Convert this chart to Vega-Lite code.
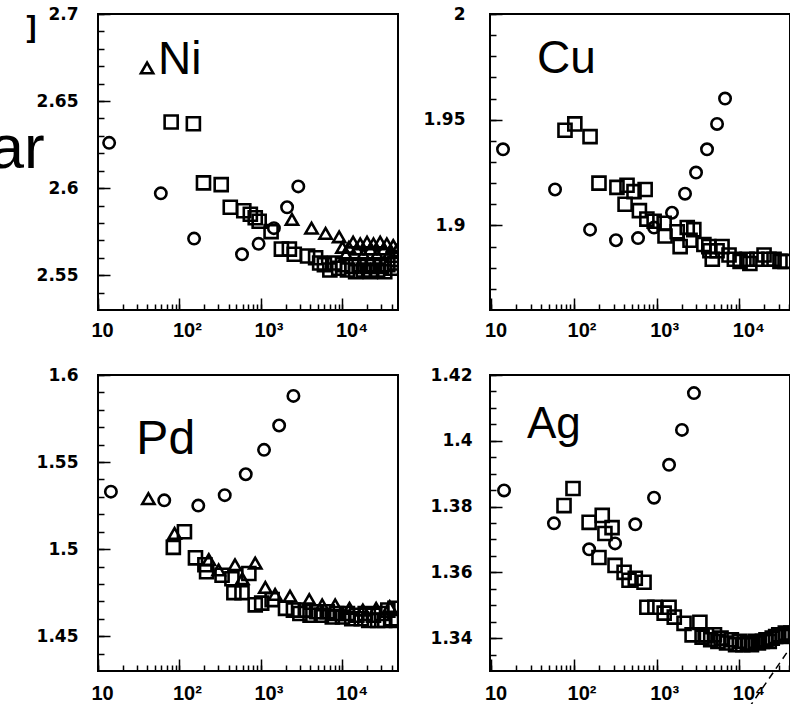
{
  "$schema": "https://vega.github.io/schema/vega-lite/v6.json",
  "background": "white",
  "padding": {"left": -12, "top": 4, "right": 0, "bottom": 0},
  "autosize": {"type": "pad"},
  "columns": 2,
  "spacing": {"row": 24, "column": 23},
  "config": {
    "view": {"stroke": "black", "strokeWidth": 2},
    "axis": {"grid": true, "gridColor": "black", "gridWidth": 1.5, "gridDash": [12, 1000], "domain": false, "ticks": true, "labelFont": "Liberation Sans", "labelFontWeight": "bold", "labelColor": "black", "tickColor": "black", "tickOpacity": 1, "tickWidth": 1.5, "tickSize": -6, "labelFlush": false, "labelOverlap": false, "minExtent": 0, "title": null},
    "axisX": {"gridDashOffset": -284},
    "axisY": {"labelFont": "DejaVu Sans", "labelFontSize": 17}
  },
  "datasets": {
    "ni": [
      {"n": 13.7, "v": 2.626, "s": "c"}, {"n": 59, "v": 2.597, "s": "c"}, {"n": 151, "v": 2.571, "s": "c"}, {"n": 585, "v": 2.562, "s": "c"}, {"n": 935, "v": 2.568, "s": "c"}, {"n": 1440, "v": 2.577, "s": "c"}, {"n": 2090, "v": 2.589, "s": "c"}, {"n": 2870, "v": 2.601, "s": "c"},
      {"n": 79, "v": 2.638, "s": "q"}, {"n": 148, "v": 2.637, "s": "q"}, {"n": 197, "v": 2.603, "s": "q"}, {"n": 325, "v": 2.602, "s": "q"}, {"n": 420, "v": 2.589, "s": "q"}, {"n": 615, "v": 2.587, "s": "q"}, {"n": 740, "v": 2.585, "s": "q"}, {"n": 850, "v": 2.583, "s": "q"}, {"n": 950, "v": 2.581, "s": "q"}, {"n": 1330, "v": 2.575, "s": "q"}, {"n": 1780, "v": 2.565, "s": "q"}, {"n": 2230, "v": 2.565, "s": "q"}, {"n": 2560, "v": 2.562, "s": "q"}, {"n": 3730, "v": 2.561, "s": "q"}, {"n": 4680, "v": 2.56, "s": "q"}, {"n": 5250, "v": 2.557, "s": "q"}, {"n": 6000, "v": 2.556, "s": "q"}, {"n": 7000, "v": 2.553, "s": "q"}, {"n": 8000, "v": 2.557, "s": "q"}, {"n": 9000, "v": 2.554, "s": "q"}, {"n": 10000, "v": 2.556, "s": "q"}, {"n": 11500, "v": 2.553, "s": "q"}, {"n": 13000, "v": 2.555, "s": "q"}, {"n": 14500, "v": 2.552, "s": "q"}, {"n": 16000, "v": 2.556, "s": "q"}, {"n": 18000, "v": 2.553, "s": "q"}, {"n": 20000, "v": 2.555, "s": "q"}, {"n": 22000, "v": 2.552, "s": "q"}, {"n": 24000, "v": 2.556, "s": "q"}, {"n": 27000, "v": 2.553, "s": "q"}, {"n": 30000, "v": 2.555, "s": "q"}, {"n": 33000, "v": 2.552, "s": "q"}, {"n": 36000, "v": 2.556, "s": "q"}, {"n": 40000, "v": 2.554, "s": "q"}, {"n": 44000, "v": 2.557, "s": "q"}, {"n": 47000, "v": 2.559, "s": "q"},
      {"n": 40, "v": 2.669, "s": "t"}, {"n": 2400, "v": 2.582, "s": "t"}, {"n": 4170, "v": 2.577, "s": "t"}, {"n": 6200, "v": 2.574, "s": "t"}, {"n": 9100, "v": 2.572, "s": "t"}, {"n": 10000, "v": 2.566, "s": "t"}, {"n": 11000, "v": 2.562, "s": "t"}, {"n": 12000, "v": 2.566, "s": "t"}, {"n": 13500, "v": 2.569, "s": "t"}, {"n": 15000, "v": 2.565, "s": "t"}, {"n": 16500, "v": 2.568, "s": "t"}, {"n": 18000, "v": 2.562, "s": "t"}, {"n": 20000, "v": 2.569, "s": "t"}, {"n": 22000, "v": 2.565, "s": "t"}, {"n": 24000, "v": 2.568, "s": "t"}, {"n": 26500, "v": 2.562, "s": "t"}, {"n": 29000, "v": 2.569, "s": "t"}, {"n": 32000, "v": 2.565, "s": "t"}, {"n": 35000, "v": 2.568, "s": "t"}, {"n": 38000, "v": 2.563, "s": "t"}, {"n": 42000, "v": 2.567, "s": "t"}, {"n": 46000, "v": 2.564, "s": "t"}
    ],
    "cu": [
      {"n": 13.8, "v": 1.936, "s": "c"}, {"n": 58.8, "v": 1.917, "s": "c"}, {"n": 156, "v": 1.898, "s": "c"}, {"n": 321, "v": 1.893, "s": "c"}, {"n": 594, "v": 1.894, "s": "c"}, {"n": 927, "v": 1.899, "s": "c"}, {"n": 1530, "v": 1.906, "s": "c"}, {"n": 2200, "v": 1.915, "s": "c"}, {"n": 2990, "v": 1.925, "s": "c"}, {"n": 4060, "v": 1.936, "s": "c"}, {"n": 5370, "v": 1.948, "s": "c"}, {"n": 6710, "v": 1.96, "s": "c"},
      {"n": 77.6, "v": 1.945, "s": "q"}, {"n": 102, "v": 1.948, "s": "q"}, {"n": 156, "v": 1.942, "s": "q"}, {"n": 200, "v": 1.92, "s": "q"}, {"n": 330, "v": 1.918, "s": "q"}, {"n": 437, "v": 1.919, "s": "q"}, {"n": 414, "v": 1.91, "s": "q"}, {"n": 531, "v": 1.916, "s": "q"}, {"n": 724, "v": 1.917, "s": "q"}, {"n": 617, "v": 1.907, "s": "q"}, {"n": 760, "v": 1.903, "s": "q"}, {"n": 930, "v": 1.902, "s": "q"}, {"n": 1230, "v": 1.901, "s": "q"}, {"n": 1260, "v": 1.895, "s": "q"}, {"n": 1770, "v": 1.897, "s": "q"}, {"n": 1920, "v": 1.89, "s": "q"}, {"n": 2340, "v": 1.899, "s": "q"}, {"n": 2810, "v": 1.898, "s": "q"}, {"n": 2530, "v": 1.893, "s": "q"}, {"n": 3720, "v": 1.891, "s": "q"}, {"n": 4270, "v": 1.89, "s": "q"}, {"n": 4400, "v": 1.888, "s": "q"}, {"n": 4700, "v": 1.884, "s": "q"}, {"n": 5370, "v": 1.888, "s": "q"}, {"n": 6170, "v": 1.89, "s": "q"}, {"n": 7500, "v": 1.886, "s": "q"}, {"n": 8700, "v": 1.884, "s": "q"}, {"n": 10200, "v": 1.883, "s": "q"}, {"n": 12400, "v": 1.884, "s": "q"}, {"n": 13400, "v": 1.882, "s": "q"}, {"n": 16300, "v": 1.884, "s": "q"}, {"n": 19900, "v": 1.886, "s": "q"}, {"n": 22800, "v": 1.884, "s": "q"}, {"n": 26300, "v": 1.884, "s": "q"}, {"n": 31000, "v": 1.883, "s": "q"}, {"n": 35700, "v": 1.883, "s": "q"}
    ],
    "pd": [
      {"n": 14.4, "v": 1.533, "s": "c"}, {"n": 65, "v": 1.528, "s": "c"}, {"n": 170, "v": 1.525, "s": "c"}, {"n": 359, "v": 1.531, "s": "c"}, {"n": 650, "v": 1.543, "s": "c"}, {"n": 1090, "v": 1.557, "s": "c"}, {"n": 1670, "v": 1.571, "s": "c"}, {"n": 2500, "v": 1.588, "s": "c"},
      {"n": 41.5, "v": 1.529, "s": "t"}, {"n": 87, "v": 1.509, "s": "t"}, {"n": 229, "v": 1.494, "s": "t"}, {"n": 302, "v": 1.488, "s": "t"}, {"n": 480, "v": 1.491, "s": "t"}, {"n": 590, "v": 1.483, "s": "t"}, {"n": 850, "v": 1.492, "s": "t"}, {"n": 1130, "v": 1.478, "s": "t"}, {"n": 1490, "v": 1.474, "s": "t"}, {"n": 2270, "v": 1.473, "s": "t"}, {"n": 3910, "v": 1.471, "s": "t"}, {"n": 5630, "v": 1.468, "s": "t"}, {"n": 8130, "v": 1.468, "s": "t"}, {"n": 12200, "v": 1.466, "s": "t"}, {"n": 17800, "v": 1.465, "s": "t"}, {"n": 25900, "v": 1.466, "s": "t"}, {"n": 38000, "v": 1.467, "s": "t"},
      {"n": 84, "v": 1.501, "s": "q"}, {"n": 115, "v": 1.51, "s": "q"}, {"n": 157, "v": 1.495, "s": "q"}, {"n": 205, "v": 1.491, "s": "q"}, {"n": 215, "v": 1.487, "s": "q"}, {"n": 333, "v": 1.485, "s": "q"}, {"n": 440, "v": 1.483, "s": "q"}, {"n": 465, "v": 1.475, "s": "q"}, {"n": 585, "v": 1.475, "s": "q"}, {"n": 710, "v": 1.486, "s": "q"}, {"n": 850, "v": 1.468, "s": "q"}, {"n": 1020, "v": 1.469, "s": "q"}, {"n": 1370, "v": 1.471, "s": "q"}, {"n": 2000, "v": 1.466, "s": "q"}, {"n": 2500, "v": 1.465, "s": "q"}, {"n": 3000, "v": 1.463, "s": "q"}, {"n": 3500, "v": 1.465, "s": "q"}, {"n": 4000, "v": 1.462, "s": "q"}, {"n": 4800, "v": 1.464, "s": "q"}, {"n": 5500, "v": 1.462, "s": "q"}, {"n": 6500, "v": 1.464, "s": "q"}, {"n": 7500, "v": 1.461, "s": "q"}, {"n": 8500, "v": 1.463, "s": "q"}, {"n": 10000, "v": 1.461, "s": "q"}, {"n": 11500, "v": 1.463, "s": "q"}, {"n": 13000, "v": 1.46, "s": "q"}, {"n": 15000, "v": 1.462, "s": "q"}, {"n": 17000, "v": 1.46, "s": "q"}, {"n": 19000, "v": 1.463, "s": "q"}, {"n": 21000, "v": 1.459, "s": "q"}, {"n": 24000, "v": 1.462, "s": "q"}, {"n": 27000, "v": 1.459, "s": "q"}, {"n": 30000, "v": 1.463, "s": "q"}, {"n": 33000, "v": 1.459, "s": "q"}, {"n": 36000, "v": 1.465, "s": "q"}, {"n": 40000, "v": 1.46, "s": "q"}, {"n": 44000, "v": 1.466, "s": "q"}, {"n": 46000, "v": 1.459, "s": "q"}
    ],
    "ag": [
      {"n": 14.2, "v": 1.3849, "s": "c"}, {"n": 57, "v": 1.3749, "s": "c"}, {"n": 152, "v": 1.367, "s": "c"}, {"n": 313, "v": 1.3688, "s": "c"}, {"n": 550, "v": 1.3746, "s": "c"}, {"n": 927, "v": 1.3827, "s": "c"}, {"n": 1410, "v": 1.3927, "s": "c"}, {"n": 2020, "v": 1.4033, "s": "c"}, {"n": 2820, "v": 1.4145, "s": "c"},
      {"n": 75.5, "v": 1.3803, "s": "q"}, {"n": 97, "v": 1.3855, "s": "q"}, {"n": 152, "v": 1.3752, "s": "q"}, {"n": 200, "v": 1.3645, "s": "q"}, {"n": 219, "v": 1.3773, "s": "q"}, {"n": 236, "v": 1.3718, "s": "q"}, {"n": 288, "v": 1.3736, "s": "q"}, {"n": 313, "v": 1.3621, "s": "q"}, {"n": 403, "v": 1.36, "s": "q"}, {"n": 462, "v": 1.3576, "s": "q"}, {"n": 550, "v": 1.3582, "s": "q"}, {"n": 702, "v": 1.357, "s": "q"}, {"n": 760, "v": 1.3494, "s": "q"}, {"n": 950, "v": 1.3494, "s": "q"}, {"n": 1230, "v": 1.3476, "s": "q"}, {"n": 1410, "v": 1.3494, "s": "q"}, {"n": 1630, "v": 1.3464, "s": "q"}, {"n": 2140, "v": 1.3445, "s": "q"}, {"n": 2680, "v": 1.341, "s": "q"}, {"n": 3330, "v": 1.3448, "s": "q"}, {"n": 3540, "v": 1.3403, "s": "q"}, {"n": 4000, "v": 1.341, "s": "q"}, {"n": 4500, "v": 1.3395, "s": "q"}, {"n": 5000, "v": 1.341, "s": "q"}, {"n": 5500, "v": 1.339, "s": "q"}, {"n": 6000, "v": 1.34, "s": "q"}, {"n": 7000, "v": 1.3385, "s": "q"}, {"n": 8000, "v": 1.3395, "s": "q"}, {"n": 9000, "v": 1.338, "s": "q"}, {"n": 10000, "v": 1.339, "s": "q"}, {"n": 11000, "v": 1.338, "s": "q"}, {"n": 12500, "v": 1.3385, "s": "q"}, {"n": 14000, "v": 1.338, "s": "q"}, {"n": 15500, "v": 1.339, "s": "q"}, {"n": 17000, "v": 1.3385, "s": "q"}, {"n": 19000, "v": 1.339, "s": "q"}, {"n": 21000, "v": 1.3395, "s": "q"}, {"n": 23000, "v": 1.339, "s": "q"}, {"n": 25000, "v": 1.34, "s": "q"}, {"n": 27500, "v": 1.3405, "s": "q"}, {"n": 30000, "v": 1.341, "s": "q"}, {"n": 33000, "v": 1.3405, "s": "q"}, {"n": 36000, "v": 1.3415, "s": "q"}, {"n": 39000, "v": 1.341, "s": "q"}, {"n": 42000, "v": 1.3415, "s": "q"}
    ],
    "agline": [{"n": 8870, "v": 1.3127}, {"n": 41100, "v": 1.337}]
  },
  "concat": [
    {
      "width": 300, "height": 296,
      "data": {"name": "ni"},
      "encoding": {
        "x": {"field": "n", "type": "quantitative", "scale": {"type": "log", "domain": [10, 48000], "nice": false},
              "axis": {"orient": "bottom", "values": [10, 20, 30, 40, 50, 60, 70, 80, 90, 100, 200, 300, 400, 500, 600, 700, 800, 900, 1000, 2000, 3000, 4000, 5000, 6000, 7000, 8000, 9000, 10000, 20000, 30000, 40000], "labelOverlap": false, "grid": true, "ticks": true, "tickSize": -6, "tickOpacity": 1, "tickColor": "black",
                       "gridOpacity": {"condition": {"test": "indexof([10, 100, 1000, 10000], datum.value) >= 0", "value": 1}, "value": 0},
                       "labelExpr": "datum.value == 10 ? '10' : datum.value == 100 ? '10²' : datum.value == 1000 ? '10³' : datum.value == 10000 ? '10⁴' : ''", "labelFontSize": 20, "labelPadding": 16, "labelAlign": "left", "labelOffset": -7,
                       "title": "]", "titleX": -72, "titleY": -274, "titleAlign": "left", "titleBaseline": "alphabetic", "titleFont": "Liberation Sans", "titleFontSize": 30, "titleFontWeight": "bold", "titleColor": "black", "titleAngle": 0}},
        "y": {"field": "v", "type": "quantitative", "scale": {"domain": [2.53, 2.7], "nice": false, "zero": false},
              "axis": {"orient": "left", "values": [2.54, 2.55, 2.56, 2.57, 2.58, 2.59, 2.6, 2.61, 2.62, 2.63, 2.64, 2.65, 2.66, 2.67, 2.68, 2.69, 2.7], "labelOverlap": false, "grid": true, "ticks": true, "tickSize": -6, "tickOpacity": 1, "tickColor": "black",
                       "gridOpacity": {"condition": {"test": "indexof([2.55, 2.6, 2.65, 2.7], datum.value) >= 0", "value": 1}, "value": 0},
                       "labelExpr": "indexof([2.55, 2.6, 2.65, 2.7], datum.value) >= 0 ? format(datum.value, '~g') : ''", "labelPadding": 26,
                       "title": "ar", "titleAngle": 0, "titleX": -109, "titleY": 153, "titleAlign": "left", "titleBaseline": "alphabetic", "titleFont": "Liberation Sans", "titleFontSize": 62, "titleFontWeight": "normal", "titleColor": "black"}}
      },
      "layer": [
        {"transform": [{"filter": "datum.s == 'c'"}], "mark": {"type": "point", "shape": "circle", "size": 130, "filled": false, "stroke": "black", "strokeWidth": 2.6, "opacity": 1, "clip": true}},
        {"transform": [{"filter": "datum.s == 'q'"}], "mark": {"type": "point", "shape": "square", "size": 170, "filled": false, "stroke": "black", "strokeWidth": 2.6, "opacity": 1, "clip": true}},
        {"transform": [{"filter": "datum.s == 't'"}], "mark": {"type": "point", "shape": "triangle-up", "size": 150, "filled": false, "stroke": "black", "strokeWidth": 2.6, "opacity": 1, "clip": true}},
        {"transform": [{"filter": "datum.s == 't' && datum.n == 40"}],
         "mark": {"type": "text", "text": "Ni", "font": "Liberation Sans", "fontSize": 46, "align": "left", "baseline": "alphabetic", "fill": "black", "dx": 11, "dy": 6}}
      ]
    },
    {
      "width": 300, "height": 296,
      "data": {"name": "cu"},
      "encoding": {
        "x": {"field": "n", "type": "quantitative", "scale": {"type": "log", "domain": [9.6, 41000], "nice": false},
              "axis": {"orient": "bottom", "values": [10, 20, 30, 40, 50, 60, 70, 80, 90, 100, 200, 300, 400, 500, 600, 700, 800, 900, 1000, 2000, 3000, 4000, 5000, 6000, 7000, 8000, 9000, 10000, 20000, 30000, 40000], "labelOverlap": false, "grid": true, "ticks": true, "tickSize": -6, "tickOpacity": 1, "tickColor": "black",
                       "gridOpacity": {"condition": {"test": "indexof([10, 100, 1000, 10000], datum.value) >= 0", "value": 1}, "value": 0},
                       "labelExpr": "datum.value == 10 ? '10' : datum.value == 100 ? '10²' : datum.value == 1000 ? '10³' : datum.value == 10000 ? '10⁴' : ''", "labelFontSize": 20, "labelPadding": 16, "labelAlign": "left", "labelOffset": -7}},
        "y": {"field": "v", "type": "quantitative", "scale": {"domain": [1.86, 2.0], "nice": false, "zero": false},
              "axis": {"orient": "left", "values": [1.87, 1.88, 1.89, 1.9, 1.91, 1.92, 1.93, 1.94, 1.95, 1.96, 1.97, 1.98, 1.99, 2], "labelOverlap": false, "grid": true, "ticks": true, "tickSize": -6, "tickOpacity": 1, "tickColor": "black",
                       "gridOpacity": {"condition": {"test": "indexof([1.9, 1.95, 2], datum.value) >= 0", "value": 1}, "value": 0},
                       "labelExpr": "indexof([1.9, 1.95, 2], datum.value) >= 0 ? format(datum.value, '~g') : ''", "labelPadding": 31}}
      },
      "layer": [
        {"transform": [{"filter": "datum.s == 'c'"}], "mark": {"type": "point", "shape": "circle", "size": 130, "filled": false, "stroke": "black", "strokeWidth": 2.6, "opacity": 1, "clip": true}},
        {"transform": [{"filter": "datum.s == 'q'"}], "mark": {"type": "point", "shape": "square", "size": 170, "filled": false, "stroke": "black", "strokeWidth": 2.6, "opacity": 1, "clip": true}},
        {"transform": [{"filter": "datum.s == 'c' && datum.n == 58.8"}],
         "mark": {"type": "text", "text": "Cu", "font": "Liberation Sans", "fontSize": 46, "align": "left", "baseline": "alphabetic", "fill": "black", "dx": -18, "dy": -116}}
      ]
    },
    {
      "width": 300, "height": 296,
      "data": {"name": "pd"},
      "encoding": {
        "x": {"field": "n", "type": "quantitative", "scale": {"type": "log", "domain": [10, 48000], "nice": false},
              "axis": {"orient": "bottom", "values": [10, 20, 30, 40, 50, 60, 70, 80, 90, 100, 200, 300, 400, 500, 600, 700, 800, 900, 1000, 2000, 3000, 4000, 5000, 6000, 7000, 8000, 9000, 10000, 20000, 30000, 40000], "labelOverlap": false, "grid": true, "ticks": true, "tickSize": -6, "tickOpacity": 1, "tickColor": "black",
                       "gridOpacity": {"condition": {"test": "indexof([10, 100, 1000, 10000], datum.value) >= 0", "value": 1}, "value": 0},
                       "labelExpr": "datum.value == 10 ? '10' : datum.value == 100 ? '10²' : datum.value == 1000 ? '10³' : datum.value == 10000 ? '10⁴' : ''", "labelFontSize": 20, "labelPadding": 18, "labelAlign": "left", "labelOffset": -7}},
        "y": {"field": "v", "type": "quantitative", "scale": {"domain": [1.43, 1.6], "nice": false, "zero": false},
              "axis": {"orient": "left", "values": [1.44, 1.45, 1.46, 1.47, 1.48, 1.49, 1.5, 1.51, 1.52, 1.53, 1.54, 1.55, 1.56, 1.57, 1.58, 1.59, 1.6], "labelOverlap": false, "grid": true, "ticks": true, "tickSize": -6, "tickOpacity": 1, "tickColor": "black",
                       "gridOpacity": {"condition": {"test": "indexof([1.45, 1.5, 1.55, 1.6], datum.value) >= 0", "value": 1}, "value": 0},
                       "labelExpr": "indexof([1.45, 1.5, 1.55, 1.6], datum.value) >= 0 ? format(datum.value, '~g') : ''", "labelPadding": 26}}
      },
      "layer": [
        {"transform": [{"filter": "datum.s == 'c'"}], "mark": {"type": "point", "shape": "circle", "size": 130, "filled": false, "stroke": "black", "strokeWidth": 2.6, "opacity": 1, "clip": true}},
        {"transform": [{"filter": "datum.s == 'q'"}], "mark": {"type": "point", "shape": "square", "size": 170, "filled": false, "stroke": "black", "strokeWidth": 2.6, "opacity": 1, "clip": true}},
        {"transform": [{"filter": "datum.s == 't'"}], "mark": {"type": "point", "shape": "triangle-up", "size": 150, "filled": false, "stroke": "black", "strokeWidth": 2.6, "opacity": 1, "clip": true}},
        {"transform": [{"filter": "datum.s == 't' && datum.n == 41.5"}],
         "mark": {"type": "text", "text": "Pd", "font": "Liberation Sans", "fontSize": 48, "align": "left", "baseline": "alphabetic", "fill": "black", "dx": -12, "dy": -45}}
      ]
    },
    {
      "width": 300, "height": 296,
      "data": {"name": "ag"},
      "encoding": {
        "x": {"field": "n", "type": "quantitative", "scale": {"type": "log", "domain": [9.6, 41000], "nice": false},
              "axis": {"orient": "bottom", "values": [10, 20, 30, 40, 50, 60, 70, 80, 90, 100, 200, 300, 400, 500, 600, 700, 800, 900, 1000, 2000, 3000, 4000, 5000, 6000, 7000, 8000, 9000, 10000, 20000, 30000, 40000], "labelOverlap": false, "grid": true, "ticks": true, "tickSize": -6, "tickOpacity": 1, "tickColor": "black",
                       "gridOpacity": {"condition": {"test": "indexof([10, 100, 1000, 10000], datum.value) >= 0", "value": 1}, "value": 0},
                       "labelExpr": "datum.value == 10 ? '10' : datum.value == 100 ? '10²' : datum.value == 1000 ? '10³' : datum.value == 10000 ? '10⁴' : ''", "labelFontSize": 20, "labelPadding": 18, "labelAlign": "left", "labelOffset": -7}},
        "y": {"field": "v", "type": "quantitative", "scale": {"domain": [1.33, 1.42], "nice": false, "zero": false},
              "axis": {"orient": "left", "values": [1.335, 1.34, 1.345, 1.35, 1.355, 1.36, 1.365, 1.37, 1.375, 1.38, 1.385, 1.39, 1.395, 1.4, 1.405, 1.41, 1.415, 1.42], "labelOverlap": false, "grid": true, "ticks": true, "tickSize": -6, "tickOpacity": 1, "tickColor": "black",
                       "gridOpacity": {"condition": {"test": "indexof([1.34, 1.36, 1.38, 1.4, 1.42], datum.value) >= 0", "value": 1}, "value": 0},
                       "labelExpr": "indexof([1.34, 1.36, 1.38, 1.4, 1.42], datum.value) >= 0 ? format(datum.value, '~g') : ''", "labelPadding": 24}}
      },
      "layer": [
        {"transform": [{"filter": "datum.s == 'c'"}], "mark": {"type": "point", "shape": "circle", "size": 130, "filled": false, "stroke": "black", "strokeWidth": 2.6, "opacity": 1, "clip": true}},
        {"transform": [{"filter": "datum.s == 'q'"}], "mark": {"type": "point", "shape": "square", "size": 170, "filled": false, "stroke": "black", "strokeWidth": 2.6, "opacity": 1, "clip": true}},
        {"data": {"name": "agline"},
         "mark": {"type": "line", "stroke": "black", "strokeWidth": 1.5, "strokeDash": [7, 5], "clip": false}},
        {"transform": [{"filter": "datum.s == 'c' && datum.n == 57"}],
         "mark": {"type": "text", "text": "Ag", "font": "Liberation Sans", "fontSize": 44, "align": "left", "baseline": "alphabetic", "fill": "black", "dx": -27, "dy": -85}}
      ]
    }
  ]
}
